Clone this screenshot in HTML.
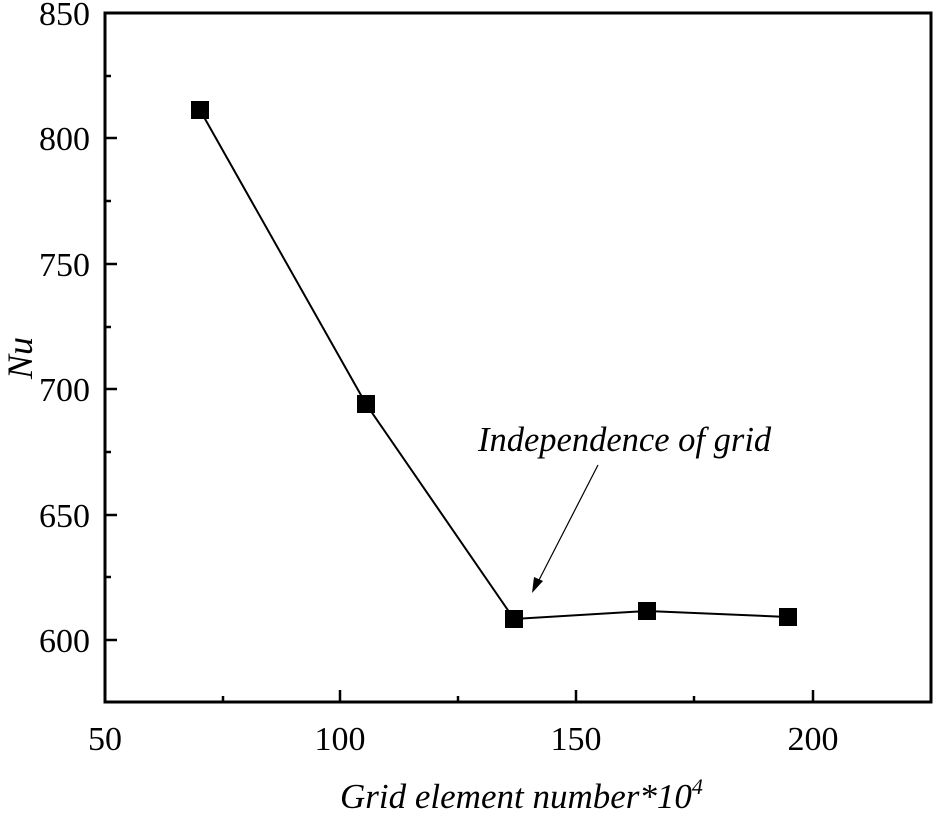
<!DOCTYPE html>
<html><head><style>body{margin:0;background:#fff}</style></head><body>
<svg width="933" height="809" xmlns="http://www.w3.org/2000/svg" font-family="Liberation Serif, serif">
<rect x="105" y="13" width="826" height="689" fill="none" stroke="#000" stroke-width="3"/>
<g stroke="#000" stroke-width="2.5">
<line x1="105" y1="13" x2="117" y2="13"/><line x1="105" y1="76" x2="111" y2="76"/>
<line x1="105" y1="138" x2="117" y2="138"/><line x1="105" y1="201" x2="111" y2="201"/>
<line x1="105" y1="264" x2="117" y2="264"/><line x1="105" y1="327" x2="111" y2="327"/>
<line x1="105" y1="389" x2="117" y2="389"/><line x1="105" y1="452" x2="111" y2="452"/>
<line x1="105" y1="515" x2="117" y2="515"/><line x1="105" y1="577" x2="111" y2="577"/>
<line x1="105" y1="640" x2="117" y2="640"/>
<line x1="223" y1="702" x2="223" y2="696"/><line x1="340" y1="702" x2="340" y2="690"/>
<line x1="458" y1="702" x2="458" y2="696"/><line x1="576" y1="702" x2="576" y2="690"/>
<line x1="694" y1="702" x2="694" y2="696"/><line x1="813" y1="702" x2="813" y2="690"/>
</g>
<g font-size="34" text-anchor="end">
<text x="90" y="25">850</text><text x="90" y="150">800</text><text x="90" y="276">750</text>
<text x="90" y="401">700</text><text x="90" y="527">650</text><text x="90" y="652">600</text>
</g>
<g font-size="34" text-anchor="middle">
<text x="105" y="750">50</text><text x="340" y="750">100</text><text x="576" y="750">150</text><text x="813" y="750">200</text>
</g>
<text transform="translate(32,358) rotate(-90)" font-size="36" font-style="italic" text-anchor="middle">Nu</text>
<text x="340" y="808" font-size="35" font-style="italic">Grid element number*10<tspan font-size="22" dy="-14">4</tspan></text>
<text x="478" y="451" font-size="34.5" font-style="italic">Independence of grid</text>
<polyline points="200,110 366,404 514,619 647,611 788,617" fill="none" stroke="#000" stroke-width="2"/>
<g fill="#000">
<rect x="191" y="101" width="18" height="18"/><rect x="357" y="395" width="18" height="18"/>
<rect x="505" y="610" width="18" height="18"/><rect x="638" y="602" width="18" height="18"/>
<rect x="779" y="608" width="18" height="18"/>
</g>
<line x1="598" y1="465" x2="538" y2="582" stroke="#000" stroke-width="1.2"/>
<polygon points="532,593 534,577 543,581" fill="#000"/>
</svg>
</body></html>
